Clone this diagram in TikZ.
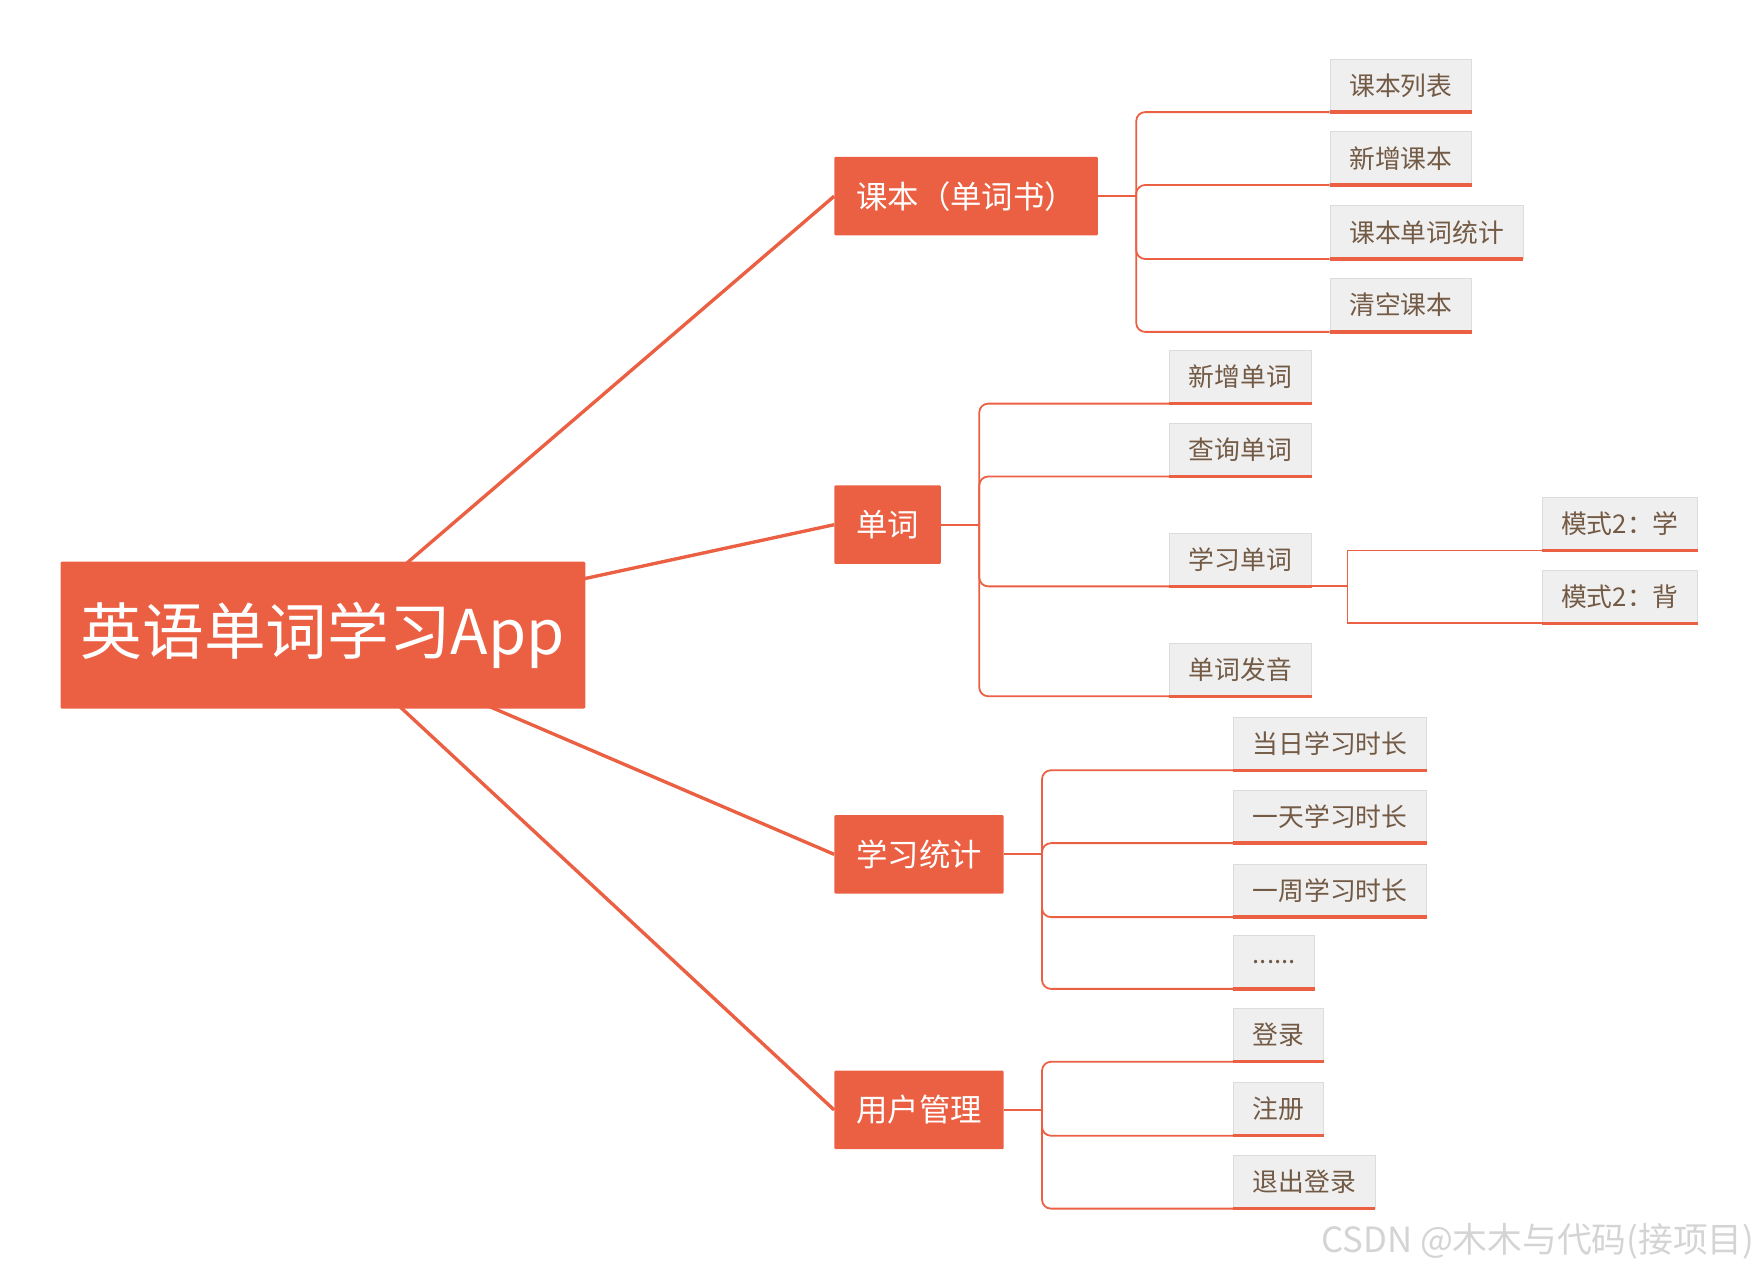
\documentclass[tikz,border=0pt]{standalone}
\usepackage{fontspec}
\setmainfont{Noto Sans CJK SC}
\usetikzlibrary{calc,backgrounds}
\definecolor{brand}{HTML}{EB5F43}
\definecolor{leaffill}{HTML}{EFEFEF}
\definecolor{leafedge}{HTML}{DCDCDC}
\definecolor{leaftext}{HTML}{735A45}
\definecolor{wmgray}{HTML}{D4D4D4}
\begin{document}
\begin{tikzpicture}[x=1pt,y=-1pt,
  rootbox/.style={fill=brand, text=white, font=\fontsize{55}{62}\selectfont, minimum width=468pt, minimum height=131pt, inner sep=0pt, rounded corners=1pt},
  mainbox/.style={fill=brand, text=white, font=\fontsize{28}{32}\selectfont, minimum height=70pt, inner xsep=19.5pt, inner ysep=0pt, anchor=west, rounded corners=1pt},
  leafbox/.style={fill=leaffill, draw=leafedge, line width=0.8pt, text=leaftext, font=\fontsize{23}{26}\selectfont, minimum height=47pt, inner xsep=17pt, inner ysep=0pt, anchor=south west},
  trunk/.style={draw=brand, line width=3pt},
  twig/.style={draw=brand, line width=1.6pt, rounded corners=8pt},
  sharptwig/.style={draw=brand, line width=1.6pt, sharp corners},
  ul/.style={draw=brand, line width=3pt},
  wmtext/.style={text=wmgray, font=\fontsize{31}{35}\selectfont, anchor=east, inner sep=0pt},
]
\useasboundingbox (0,0) rectangle (1568,1133);

% root and main topics
\node[rootbox] (root) at (288,566.5) {英语单词学习App};
\node[mainbox] (k1) at (744,175) {课本（单词书）};
\node[mainbox] (k2) at (744,468) {单词};
\node[mainbox] (k3) at (744,762) {学习统计};
\node[mainbox] (k4) at (744,990) {用户管理};

% leaves of k1
\node[leafbox] (a1) at (1186,100) {课本列表};
\node[leafbox] (a2) at (1186,165) {新增课本};
\node[leafbox] (a3) at (1186,231) {课本单词统计};
\node[leafbox] (a4) at (1186,296) {清空课本};
% leaves of k2
\node[leafbox] (b1) at (1043,360) {新增单词};
\node[leafbox] (b2) at (1043,425) {查询单词};
\node[leafbox] (b3) at (1043,523) {学习单词};
\node[leafbox] (b4) at (1043,621) {单词发音};
% leaves of b3
\node[leafbox] (m1) at (1375,491) {模式2：学};
\node[leafbox] (m2) at (1375,556) {模式2：背};
% leaves of k3
\node[leafbox] (c1) at (1100,687) {当日学习时长};
\node[leafbox] (c2) at (1100,752) {一天学习时长};
\node[leafbox] (c3) at (1100,818) {一周学习时长};
\node[leafbox] (c4) at (1100,882) {......};
% leaves of k4
\node[leafbox] (d1) at (1100,947) {登录};
\node[leafbox] (d2) at (1100,1013) {注册};
\node[leafbox] (d3) at (1100,1078) {退出登录};

% junction points
\coordinate (j1) at ($(k1.east)+(34,0)$);
\coordinate (j2) at ($(k2.east)+(34,0)$);
\coordinate (j3) at ($(k3.east)+(34,0)$);
\coordinate (j4) at ($(k4.east)+(34,0)$);
\coordinate (jb) at ($(b3.south east)+(32,0)$);

\begin{pgfonlayer}{background}
  \foreach \k in {k1,k2,k3,k4} \draw[trunk] (root.center) -- (\k.west);
\end{pgfonlayer}

\draw[twig] (k1.east) -- (j1);
\foreach \n in {a1,a2,a3,a4} \draw[twig] (j1) |- (\n.south west);
\draw[twig] (k2.east) -- (j2);
\foreach \n in {b1,b2,b3,b4} \draw[twig] (j2) |- (\n.south west);
\draw[sharptwig] (b3.south east) -- (jb);
\foreach \n in {m1,m2} \draw[sharptwig] (jb) |- (\n.south west);
\draw[twig] (k3.east) -- (j3);
\foreach \n in {c1,c2,c3,c4} \draw[twig] (j3) |- (\n.south west);
\draw[twig] (k4.east) -- (j4);
\foreach \n in {d1,d2,d3} \draw[twig] (j4) |- (\n.south west);

\foreach \n in {a1,a2,a3,a4,b1,b2,b3,b4,m1,m2,c1,c2,c3,c4,d1,d2,d3}
  \draw[ul] (\n.south west) -- (\n.south east);

\node[wmtext] (wm) at (1565,1107) {CSDN @木木与代码(接项目)};
\end{tikzpicture}
\end{document}
